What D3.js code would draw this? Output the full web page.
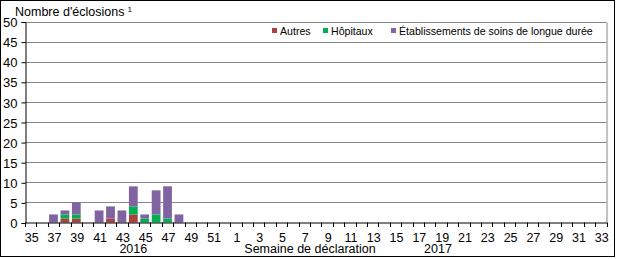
<!DOCTYPE html>
<html><head><meta charset="utf-8">
<script src="https://cdn.jsdelivr.net/npm/d3@7/dist/d3.min.js"></script>
<style>
html,body{margin:0;padding:0;background:#fff;}
svg{display:block;font-family:"Liberation Sans",Arial,sans-serif;}
</style></head>
<body><svg id="c" width="617" height="259"></svg>
<script>
const weeks = [35,36,37,38,39,40,41,42,43,44,45,46,47,48,49,50,51,52,
  1,2,3,4,5,6,7,8,9,10,11,12,13,14,15,16,17,18,19,20,21,22,23,24,25,26,27,28,29,30,31,32,33];
const autres    = [0,0,0,1,1,0,0,1,0,2,0,0,0,0];
const hopitaux  = [0,0,0,1,1,0,0,0,0,2,1,2,1,0];
const etabs     = [0,0,2,1,3,0,3,3,3,5,1,6,8,2];
const seriesNames = ["Autres","Hôpitaux","Établissements de soins de longue durée"];
const colors = ["#A9423E","#00B050","#8064A2"];
const yTicks = [0,5,10,15,20,25,30,35,40,45,50];

const svg = d3.select("#c");
const L=25, R=606.5, T=21.5, B=222.5;
const FS = 12.5;

svg.append("rect").attr("x",0.5).attr("y",0.5).attr("width",614).attr("height",256)
  .attr("fill","none").attr("stroke","#000");

const x = d3.scaleBand().domain(weeks.map((w,i)=>i)).range([L,R]).paddingInner(0.23).paddingOuter(0.115);
const y = d3.scaleLinear().domain([0,50]).range([B,T]);

svg.append("g").selectAll("line").data(yTicks.filter(v=>v>0)).join("line")
  .attr("x1",L).attr("x2",R).attr("y1",d=>Math.round(y(d))+0.5).attr("y2",d=>Math.round(y(d))+0.5)
  .attr("stroke","#868686");
svg.append("line").attr("x1",R+0.5).attr("x2",R+0.5).attr("y1",Math.round(T)+0.5).attr("y2",B)
  .attr("stroke","#868686");

const rows = weeks.map((w,i)=>({i, a: autres[i]||0, h: hopitaux[i]||0, e: etabs[i]||0}));
const stack = d3.stack().keys(["a","h","e"])(rows);
svg.append("g").selectAll("g").data(stack).join("g").attr("fill",(d,k)=>colors[k])
  .selectAll("rect").data(d=>d.filter(s=>s[1]>s[0])).join("rect")
  .attr("x",d=>x(d.data.i)).attr("width",x.bandwidth())
  .attr("y",d=>y(d[1])).attr("height",d=>y(d[0])-y(d[1]));

const yAxis = d3.axisLeft(y).tickValues(yTicks).tickSize(4).tickPadding(4);
const gy = svg.append("g").attr("transform",`translate(${L+0.5},0.5)`).call(yAxis);
gy.select(".domain").attr("stroke","#000");
gy.selectAll(".tick line").attr("stroke","#000");
gy.selectAll(".tick text").attr("font-size",FS+0.5).attr("fill","#000").attr("font-family","Liberation Sans, Arial, sans-serif").attr("dy","0.36em");

const bounds = d3.range(weeks.length+1).map(k=>L + (R-L)*k/weeks.length);
svg.append("line").attr("x1",L).attr("x2",R+0.5).attr("y1",B+0.5).attr("y2",B+0.5).attr("stroke","#000");
svg.append("g").selectAll("line").data(bounds).join("line")
  .attr("x1",d=>Math.round(d)+0.5).attr("x2",d=>Math.round(d)+0.5)
  .attr("y1",B).attr("y2",B+4.5).attr("stroke","#000");
svg.append("g").selectAll("text").data(weeks.map((w,i)=>({w,i})).filter(d=>d.i%2===0)).join("text")
  .attr("x",d=>x(d.i)+x.bandwidth()/2+1).attr("y",242)
  .attr("text-anchor","middle").attr("font-size",FS).attr("fill","#000").text(d=>d.w);

svg.append("text").attr("x",x(weeks.indexOf(44))+x.bandwidth()/2).attr("y",253).attr("text-anchor","middle")
  .attr("font-size",FS).text("2016");
svg.append("text").attr("x",438).attr("y",253).attr("text-anchor","middle")
  .attr("font-size",FS).text("2017");
svg.append("text").attr("x",310).attr("y",253).attr("text-anchor","middle")
  .attr("font-size",FS).text("Semaine de déclaration");

const yt = svg.append("text").attr("x",15).attr("y",16).attr("font-size",12.5).attr("fill","#000");
yt.append("tspan").text("Nombre d'éclosions");
yt.append("tspan").attr("dx",3).attr("dy",-4).attr("font-size",8).text("1");

const legX = [272, 323, 391];
const lg = svg.append("g");
seriesNames.forEach((n,k)=>{
  lg.append("rect").attr("x",legX[k]).attr("y",28).attr("width",5).attr("height",5).attr("fill",colors[k]);
  lg.append("text").attr("x",legX[k]+8).attr("y",35).attr("font-size",10.6).attr("fill","#000").text(n);
});
</script></body></html>
